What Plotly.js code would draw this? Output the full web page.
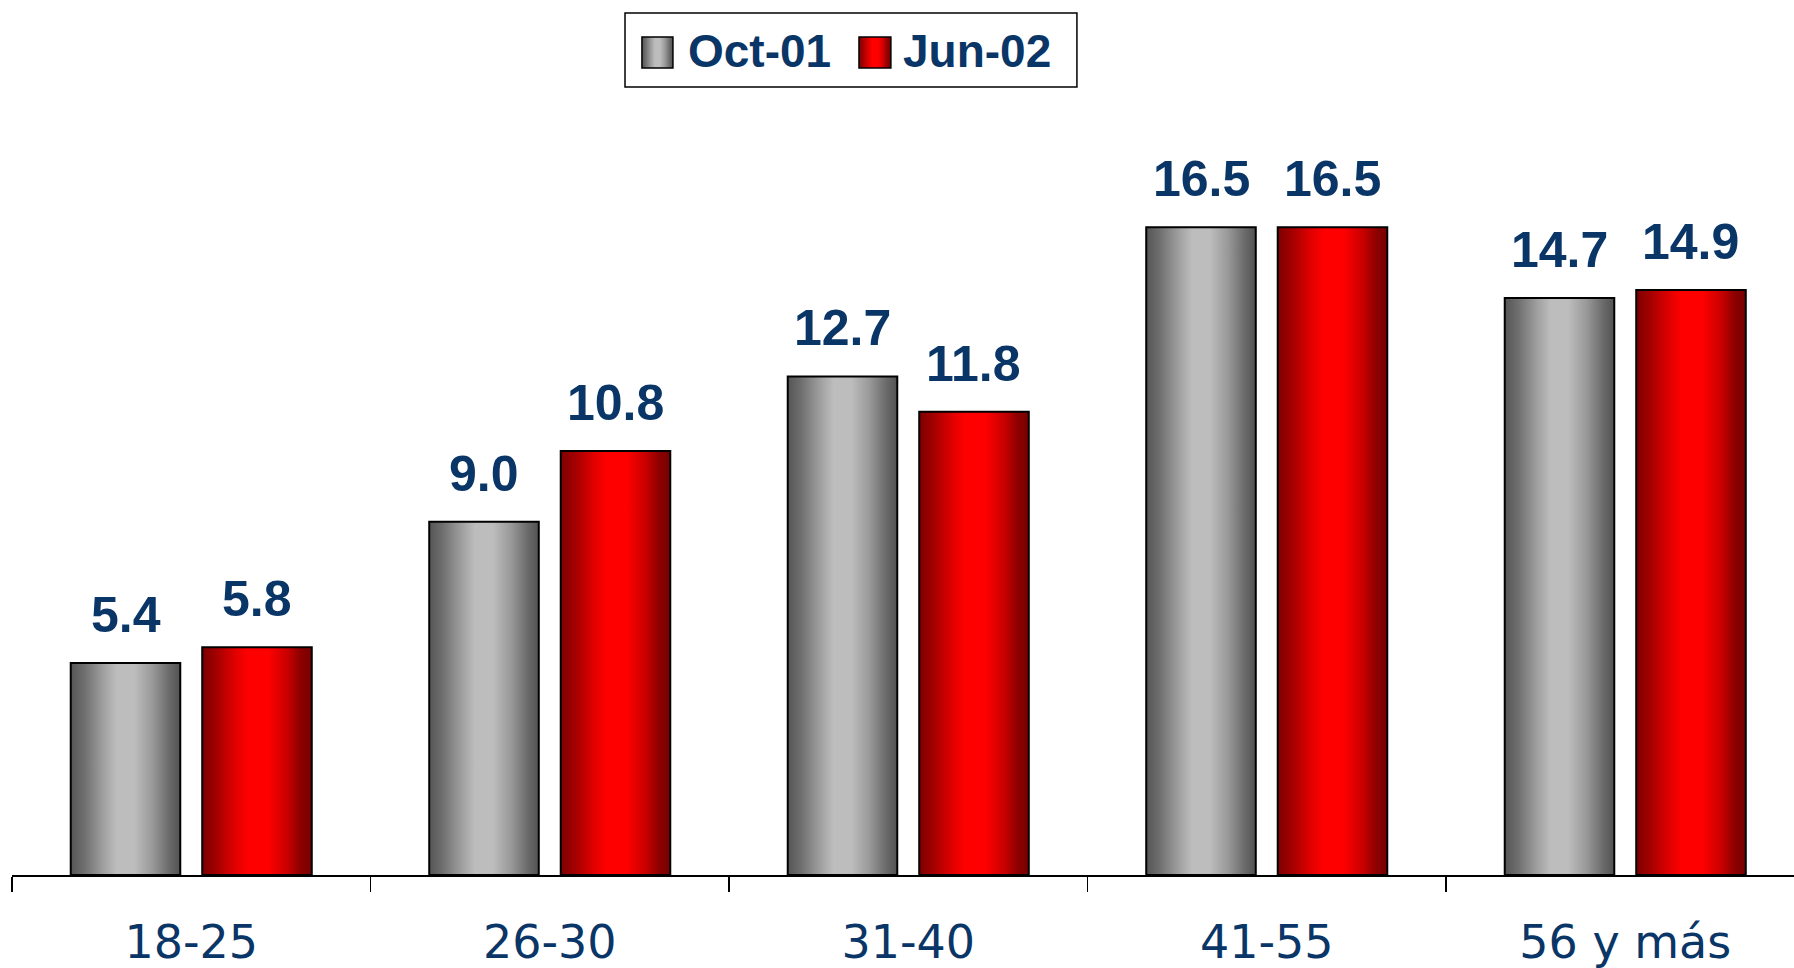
<!DOCTYPE html>
<html>
<head>
<meta charset="utf-8">
<script src="https://cdn.plot.ly/plotly-3.0.1.min.js"></script>
<style>
  html, body { margin: 0; padding: 0; background: #ffffff; overflow: hidden; }
  #chart { width: 1794px; height: 968px; }
</style>
</head>
<body>
<div id="chart"></div>
<script>
const categories = ['18-25', '26-30', '31-40', '41-55', '56 y más'];
const oct01 = [5.4, 9.0, 12.7, 16.5, 14.7];
const jun02 = [5.8, 10.8, 11.8, 16.5, 14.9];
const seriesNames = ['Oct-01', 'Jun-02'];

const navy = '#0a3567';
const labelFont = { family: 'Liberation Sans Narrow, Arial Narrow, Liberation Sans, Arial, sans-serif', size: 50, color: navy, weight: 'bold' };
const legendFont = { family: 'Liberation Sans, Arial, sans-serif', size: 46, color: navy, weight: 'bold' };

const traces = [
  { type: 'bar', name: seriesNames[0], x: categories, y: oct01,
    marker: { color: '#b0b0b0', line: { color: '#000000', width: 2 } }, hoverinfo: 'none' },
  { type: 'bar', name: seriesNames[1], x: categories, y: jun02,
    marker: { color: '#ff0000', line: { color: '#000000', width: 2 } }, hoverinfo: 'none' }
];

const annotations = [];
[oct01, jun02].forEach((vals, s) => {
  vals.forEach((v, i) => {
    annotations.push({
      x: categories[i], y: v, xref: 'x', yref: 'y',
      text: v.toFixed(1), showarrow: false,
      xanchor: 'center', yanchor: 'bottom',
      xshift: s === 0 ? -65.7 : 65.7, yshift: 18,
      font: labelFont
    });
  });
});

// legend (drawn as layout items in paper coordinates)
const legendX = [0.3535, 0.4753];
annotations.push(
  { xref: 'paper', yref: 'paper', x: 0.3780, y: 0.9420, xanchor: 'left', yanchor: 'middle', showarrow: false, text: seriesNames[0], font: legendFont },
  { xref: 'paper', yref: 'paper', x: 0.4990, y: 0.9420, xanchor: 'left', yanchor: 'middle', showarrow: false, text: seriesNames[1], font: legendFont }
);
const shapes = [
  { type: 'rect', xref: 'paper', yref: 'paper', x0: 0.3440, x1: 0.5976, y0: 0.9006, y1: 0.9851,
    line: { color: '#000000', width: 1.5 }, fillcolor: '#ffffff', layer: 'above' },
  { type: 'rect', xref: 'paper', yref: 'paper', x0: legendX[0], x1: legendX[0] + 0.0174, y0: 0.9223, y1: 0.9577,
    line: { color: '#000000', width: 1.5 }, fillcolor: '#b0b0b0', layer: 'above' },
  { type: 'rect', xref: 'paper', yref: 'paper', x0: legendX[1], x1: legendX[1] + 0.0179, y0: 0.9223, y1: 0.9577,
    line: { color: '#000000', width: 1.5 }, fillcolor: '#ff0000', layer: 'above' }
];

const layout = {
  width: 1794, height: 968,
  margin: { l: 12, r: 0, t: 0, b: 93 },
  paper_bgcolor: '#ffffff', plot_bgcolor: '#ffffff',
  barmode: 'group', bargap: 0.2664, bargroupgap: 0.167,
  showlegend: false,
  xaxis: {
    type: 'category', range: [-0.5, 4.4707],
    showline: true, linecolor: '#000000', linewidth: 2,
    ticks: 'outside', tickson: 'boundaries', ticklen: 15, tickwidth: 1.5, tickcolor: '#000000',
    tickfont: { family: 'DejaVu Sans, Verdana, sans-serif', size: 46, color: navy },
    ticklabelstandoff: 26,
    showgrid: false, zeroline: false, fixedrange: true
  },
  yaxis: {
    range: [0, 22.29], visible: false, showgrid: false, zeroline: false, fixedrange: true
  },
  annotations: annotations,
  shapes: shapes
};

const gd = document.getElementById('chart');
Plotly.newPlot(gd, traces, layout, { displayModeBar: false, staticPlot: true }).then(() => {
  const svgNS = 'http://www.w3.org/2000/svg';
  const svgs = gd.querySelectorAll('svg.main-svg');
  const svg = svgs[0];
  let defs = svg.querySelector('defs');
  if (!defs) { defs = document.createElementNS(svgNS, 'defs'); svg.insertBefore(defs, svg.firstChild); }
  function addGrad(id, stops) {
    const g = document.createElementNS(svgNS, 'linearGradient');
    g.setAttribute('id', id);
    g.setAttribute('x1', '0'); g.setAttribute('y1', '0');
    g.setAttribute('x2', '1'); g.setAttribute('y2', '0');
    stops.forEach(([o, c]) => {
      const s = document.createElementNS(svgNS, 'stop');
      s.setAttribute('offset', o); s.setAttribute('stop-color', c);
      g.appendChild(s);
    });
    defs.appendChild(g);
  }
  addGrad('gradGray', [['0%', '#555555'], ['12%', '#6e6e6e'], ['30%', '#a0a0a0'], ['42%', '#bdbdbd'], ['58%', '#bdbdbd'], ['75%', '#989898'], ['90%', '#6a6a6a'], ['100%', '#525252']]);
  addGrad('gradRed', [['0%', '#7e0000'], ['12%', '#a00000'], ['30%', '#e00000'], ['42%', '#ff0000'], ['60%', '#ff0000'], ['78%', '#c80000'], ['90%', '#8c0000'], ['100%', '#780000']]);
  const gradIds = ['gradGray', 'gradRed'];
  gd.querySelectorAll('.barlayer .trace').forEach((t, k) => {
    t.querySelectorAll('path').forEach(p => { p.style.fill = 'url(#' + gradIds[k] + ')'; });
  });
  const shapePaths = gd.querySelectorAll('.layer-above .shapelayer path');
  if (shapePaths.length >= 3) {
    shapePaths[1].style.fill = 'url(#gradGray)';
    shapePaths[2].style.fill = 'url(#gradRed)';
  }
});
</script>
</body>
</html>
